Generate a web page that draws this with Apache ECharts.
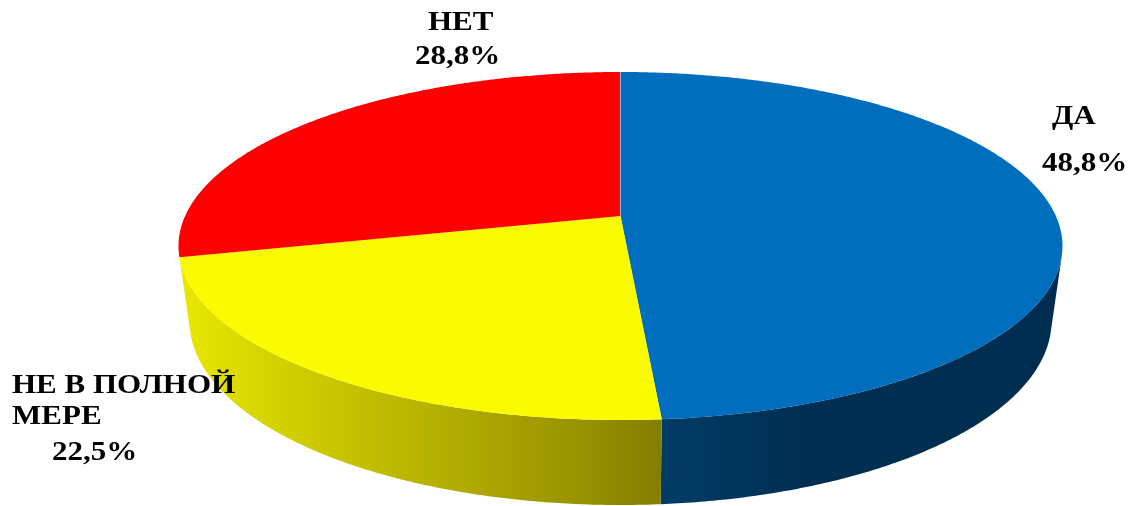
<!DOCTYPE html>
<html><head><meta charset="utf-8">
<style>html,body{margin:0;padding:0;background:#fff}#c{width:1132px;height:506px}</style>
<script src="https://cdn.jsdelivr.net/npm/echarts@6/dist/echarts.min.js"></script>
</head><body><div id="c"></div>
<script>
const categories = ['ДА', 'НЕ В ПОЛНОЙ\nМЕРЕ', 'НЕТ'];
const shareValues = [48.8, 22.5, 28.8];
const faceColors = ['#006ebd', '#fafa00', '#ff0000'];

// Perspective disc: the top and bottom faces are projected ellipses.
const persp = 0.1724;
const topFace = {cx: 620.5, cy: 246, rx: 442, ry: 174};
const bottomFace = {cx: 620.5, cy: 321, rx: 431, ry: 184};
const sideRange = [103, 257];
const sideFills = [
  [[662, '#003c66'], [800, '#002f52'], [1060, '#002d4f']],
  [[180, '#e8e800'], [300, '#cfcc00'], [560, '#9c9700'], [662, '#847e00']],
  null
];
const labelLayout = [
  {x: 1052, y: 117, pctX: 1042, pctY: 164},
  {x: 12, y: 386, pctX: 52, pctY: 453},
  {x: 428, y: 23, pctX: 415, pctY: 57}
];

const total = shareValues.reduce((a, b) => a + b, 0);
function spans() {
  let acc = 0;
  return shareValues.map(v => { const s = acc; acc += v; return [s / total * 360, acc / total * 360]; });
}
function pt(f, deg) {
  const t = deg * Math.PI / 180, u = Math.sin(t), v = Math.cos(t), d = 1 + persp * v, q = 1 - persp * persp;
  return [f.cx + f.rx * Math.sqrt(q) * u / d, f.cy - f.ry * persp - f.ry * q * v / d];
}
function arc(f, a, b) {
  const n = Math.max(2, Math.ceil(Math.abs(b - a) * 2)), out = [];
  for (let i = 0; i <= n; i++) out.push(pt(f, a + (b - a) * i / n));
  return out;
}
function renderSide(params) {
  const i = params.dataIndex, sp = spans()[i], fill = sideFills[i];
  const a = Math.max(sp[0], sideRange[0]), b = Math.min(sp[1], sideRange[1]);
  if (!fill || b <= a) return {type: 'group', children: []};
  const x0 = fill[0][0], x1 = fill[fill.length - 1][0];
  const grad = new echarts.graphic.LinearGradient(x0, 0, x1, 0,
    fill.map(s => ({offset: (s[0] - x0) / (x1 - x0), color: s[1]})), true);
  return {type: 'polygon', shape: {points: arc(topFace, a, b).concat(arc(bottomFace, b, a))}, style: {fill: grad}};
}
function renderTop(params) {
  const i = params.dataIndex, sp = spans()[i];
  const apex = [topFace.cx, topFace.cy - topFace.ry * persp];
  const kids = [{type: 'polygon', shape: {points: [apex].concat(arc(topFace, sp[0], sp[1]))}, style: {fill: faceColors[i]}}];
  if (i === shareValues.length - 1) {
    kids.push({type: 'line', shape: {x1: apex[0], y1: apex[1], x2: pt(topFace, 0)[0], y2: pt(topFace, 0)[1]},
      style: {stroke: '#8fb4d8', lineWidth: 1, fill: null}});
  }
  return {type: 'group', children: kids};
}
const seriesData = categories.map((n, i) => ({name: n, value: shareValues[i]}));
const font = 'bold 26.5px "Liberation Serif", serif';
const texts = [];
categories.forEach((n, i) => {
  const L = labelLayout[i];
  n.split('\n').forEach((line, k) => texts.push({
    type: 'text', x: L.x, y: L.y + k * 31, scaleX: 1.17, z: 20,
    style: {text: line, font, fill: '#000', textAlign: 'left', textVerticalAlign: 'middle'}
  }));
  texts.push({
    type: 'text', x: L.pctX, y: L.pctY, scaleX: 1.17, z: 20,
    style: {text: shareValues[i].toFixed(1).replace('.', ',') + '%', font, fill: '#000', textAlign: 'left', textVerticalAlign: 'middle'}
  });
});
const chart = echarts.init(document.getElementById('c'), null, {renderer: 'canvas'});
chart.setOption({
  animation: false,
  backgroundColor: '#fff',
  series: [
    {type: 'custom', coordinateSystem: 'none', silent: true, z: 1, data: seriesData, renderItem: renderSide},
    {type: 'custom', coordinateSystem: 'none', silent: true, z: 2, data: seriesData, renderItem: renderTop}
  ],
  graphic: {elements: texts}
});
</script></body></html>
